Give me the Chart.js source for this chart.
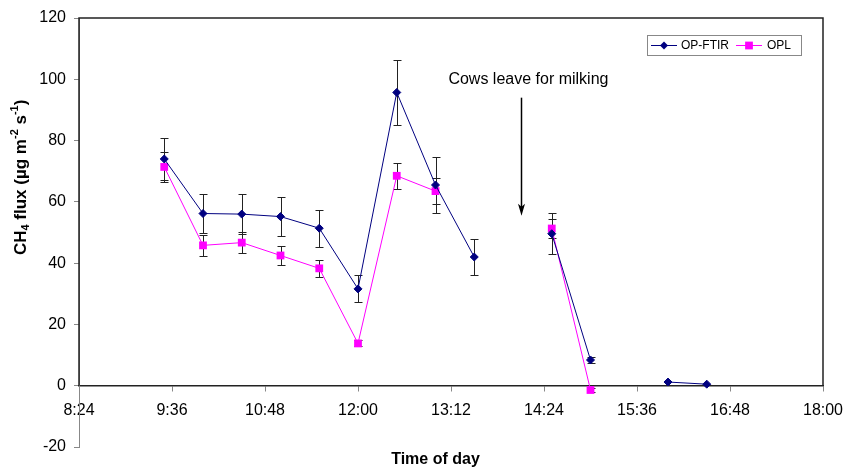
<!DOCTYPE html>
<html lang="en">
<head>
    <meta charset="UTF-8">
    <title>CH4 flux by time of day</title>
    <script src="https://cdn.jsdelivr.net/npm/chart.js"></script>
    <style>
        body, html {
            margin: 0;
            padding: 0;
            background-color: #ffffff;
        }
        .chart-container {
            position: relative;
            width: 845px;
            height: 469px;
        }
    </style>
</head>
<body>
    <div class="chart-container">
        <canvas id="fluxChart" width="845" height="469"></canvas>
    </div>

    <script>
        // sampling times (null = no measurement, breaks the line)
        const sampleTimes = ['9:30', '10:00', '10:30', '11:00', '11:30', '12:00', '12:30', '13:00',
                             '13:30', '14:00', '14:30', '15:00', '15:30', '16:00', '16:30'];
        const ftirFlux = [74.0, 56.2, 56.0, 55.2, 51.4, 31.6, 95.7, 65.5, 42.0, null, 49.6, 8.4, null, 1.2, 0.5];
        const ftirErr  = [7.0, 6.5, 6.5, 6.5, 6.0, 4.4, 10.6, 9.0, 6.0, null, 6.7, 1.0, null, 0, 0];
        const oplFlux  = [71.4, 45.8, 46.7, 42.5, 38.3, 13.8, 68.5, 63.5, null, null, 51.3, -1.4, null, null, null];
        const oplErr   = [5.0, 3.5, 3.5, 3.0, 2.7, 1.0, 4.3, 4.2, null, null, 3.0, 0.5, null, null, null];

        const xTickLabels = ['8:24', '9:36', '10:48', '12:00', '13:12', '14:24', '15:36', '16:48', '18:00'];
        const yTickValues = [-20, 0, 20, 40, 60, 80, 100, 120];

        const xTitle = 'Time of day';
        const xTitleTime = '13:00';
        // y axis title with sub/superscripts: [text, shift] (-1 sub, 1 sup)
        const yTitleParts = [['CH', 0], ['4', -1], [' flux (µg m', 0], ['-2', 1], [' s', 0], ['-1', 1], [')', 0]];
        const yTitleCenter = 68;

        const noteText = 'Cows leave for milking';
        const noteTime = '13:10';
        const noteValue = 100;
        const arrowTime = '14:06';
        const arrowFrom = 94;
        const arrowTo = 55.5;

        function toMinutes(t) {
            const parts = t.split(':').map(Number);
            return parts[0] * 60 + parts[1];
        }
        const xTickValues = xTickLabels.map(toMinutes);

        function toPoints(values) {
            return sampleTimes.map((t, i) => ({ x: toMinutes(t), y: values[i] }));
        }

        const FONT = '"Liberation Sans", Arial, sans-serif';
        Chart.defaults.font.family = FONT;
        Chart.defaults.color = '#000';

        // vertical error bars, drawn under the markers
        const errorBars = {
            id: 'errorBars',
            beforeDatasetsDraw(chart) {
                const { ctx, scales: { x, y } } = chart;
                ctx.save();
                ctx.strokeStyle = '#222';
                ctx.lineWidth = 1;
                chart.data.datasets.forEach(ds => {
                    if (!ds.errors) return;
                    ds.data.forEach((p, j) => {
                        const e = ds.errors[j];
                        if (p.y === null || !e) return;
                        const px = Math.round(x.getPixelForValue(p.x)) + 0.5;
                        const top = Math.round(y.getPixelForValue(p.y + e)) + 0.5;
                        const bot = Math.round(y.getPixelForValue(p.y - e)) + 0.5;
                        ctx.beginPath();
                        ctx.moveTo(px, top); ctx.lineTo(px, bot);
                        ctx.moveTo(px - 4, top); ctx.lineTo(px + 4, top);
                        ctx.moveTo(px - 4, bot); ctx.lineTo(px + 4, bot);
                        ctx.stroke();
                    });
                });
                ctx.restore();
            }
        };

        // plot frame, axis titles, annotation arrow and legend
        const frameAndNote = {
            id: 'frameAndNote',
            afterDraw(chart) {
                const { ctx, chartArea: a, scales: { x, y } } = chart;
                const y0 = y.getPixelForValue(0);
                ctx.save();
                ctx.strokeStyle = '#222';
                ctx.lineWidth = 1.5;
                ctx.beginPath();
                ctx.moveTo(a.left, y0);
                ctx.lineTo(a.left, a.top);
                ctx.lineTo(a.right, a.top);
                ctx.lineTo(a.right, y0);
                ctx.stroke();

                // x title
                ctx.fillStyle = '#000';
                ctx.font = 'bold 16px ' + FONT;
                ctx.textAlign = 'center';
                ctx.textBaseline = 'middle';
                ctx.fillText(xTitle, x.getPixelForValue(toMinutes(xTitleTime)), chart.height - 9);

                // y title, rotated, with sub/superscripts
                const big = 'bold 17px ' + FONT;
                const small = 'bold 11px ' + FONT;
                let total = 0;
                yTitleParts.forEach(p => {
                    ctx.font = p[1] ? small : big;
                    total += ctx.measureText(p[0]).width;
                });
                ctx.save();
                ctx.translate(21, y.getPixelForValue(yTitleCenter));
                ctx.rotate(-Math.PI / 2);
                ctx.textAlign = 'left';
                let cx = -total / 2;
                yTitleParts.forEach(p => {
                    ctx.font = p[1] ? small : big;
                    ctx.fillText(p[0], cx, p[1] === -1 ? 5 : p[1] === 1 ? -6 : 0);
                    cx += ctx.measureText(p[0]).width;
                });
                ctx.restore();

                // annotation
                ctx.font = '16px ' + FONT;
                ctx.textAlign = 'left';
                ctx.fillText(noteText, x.getPixelForValue(toMinutes(noteTime)), y.getPixelForValue(noteValue));

                const ax = Math.round(x.getPixelForValue(toMinutes(arrowTime))) + 0.5;
                const ay1 = y.getPixelForValue(arrowFrom);
                const ay2 = y.getPixelForValue(arrowTo);
                ctx.strokeStyle = '#000';
                ctx.lineWidth = 1.5;
                ctx.beginPath();
                ctx.moveTo(ax, ay1);
                ctx.lineTo(ax, ay2 - 6);
                ctx.stroke();
                ctx.beginPath();
                ctx.moveTo(ax, ay2);
                ctx.lineTo(ax - 3.5, ay2 - 12);
                ctx.lineTo(ax, ay2 - 9);
                ctx.lineTo(ax + 3.5, ay2 - 12);
                ctx.closePath();
                ctx.fill();

                // legend box
                const lx = 647, ly = 35, lw = 154, lh = 20;
                ctx.strokeStyle = '#888';
                ctx.lineWidth = 1;
                ctx.fillStyle = '#fff';
                ctx.fillRect(lx, ly, lw, lh);
                ctx.strokeRect(lx + 0.5, ly + 0.5, lw, lh);
                const cy = ly + lh / 2 + 0.5;
                const items = [
                    { ds: chart.data.datasets[0], x0: 651, tx: 681 },
                    { ds: chart.data.datasets[1], x0: 736, tx: 767 }
                ];
                items.forEach(it => {
                    ctx.strokeStyle = it.ds.borderColor;
                    ctx.lineWidth = 1;
                    ctx.beginPath();
                    ctx.moveTo(it.x0, cy);
                    ctx.lineTo(it.x0 + 26, cy);
                    ctx.stroke();
                    const mx = it.x0 + 13;
                    ctx.fillStyle = it.ds.pointBackgroundColor;
                    ctx.beginPath();
                    if (it.ds.pointStyle === 'rectRot') {
                        const r = it.ds.pointRadius;
                        ctx.moveTo(mx, cy - r); ctx.lineTo(mx + r, cy);
                        ctx.lineTo(mx, cy + r); ctx.lineTo(mx - r, cy);
                    } else {
                        const s = it.ds.pointRadius * Math.SQRT1_2;
                        ctx.rect(mx - s, cy - s, 2 * s, 2 * s);
                    }
                    ctx.closePath();
                    ctx.fill();
                    ctx.fillStyle = '#000';
                    ctx.font = '12px ' + FONT;
                    ctx.fillText(it.ds.label, it.tx, cy);
                });
                ctx.restore();
            }
        };

        const ctx = document.getElementById('fluxChart').getContext('2d');
        const fluxChart = new Chart(ctx, {
            type: 'line',
            data: {
                datasets: [
                    {
                        label: 'OP-FTIR',
                        data: toPoints(ftirFlux),
                        errors: ftirErr,
                        borderColor: '#000080',
                        backgroundColor: '#000080',
                        pointBackgroundColor: '#000080',
                        pointBorderColor: '#000080',
                        pointStyle: 'rectRot',
                        pointRadius: 4,
                        borderWidth: 1,
                        pointBorderWidth: 1,
                        spanGaps: false,
                        tension: 0
                    },
                    {
                        label: 'OPL',
                        data: toPoints(oplFlux),
                        errors: oplErr,
                        borderColor: '#FF00FF',
                        backgroundColor: '#FF00FF',
                        pointBackgroundColor: '#FF00FF',
                        pointBorderColor: '#FF00FF',
                        pointStyle: 'rect',
                        pointRadius: 5.5,
                        borderWidth: 1,
                        pointBorderWidth: 0,
                        spanGaps: false,
                        tension: 0
                    }
                ]
            },
            options: {
                responsive: false,
                animation: false,
                devicePixelRatio: 1,
                layout: { padding: { top: 18, right: 22, left: 0, bottom: 22 } },
                scales: {
                    x: {
                        type: 'linear',
                        position: { y: 0 },
                        min: 504,
                        max: 1080,
                        afterBuildTicks(scale) {
                            scale.ticks = xTickValues.map(v => ({ value: v }));
                        },
                        // labels overhang the ends; don't let them shrink the plot
                        afterFit(scale) {
                            scale.paddingLeft = 0;
                            scale.paddingRight = 0;
                        },
                        border: { color: '#222', width: 1.5 },
                        grid: { drawOnChartArea: false, drawTicks: true, tickLength: 5, color: '#888' },
                        ticks: {
                            autoSkip: false,
                            maxRotation: 0,
                            padding: 10,
                            font: { size: 16 },
                            callback: value => xTickLabels[xTickValues.indexOf(value)]
                        }
                    },
                    y: {
                        min: -20,
                        max: 120,
                        afterBuildTicks(scale) {
                            scale.ticks = yTickValues.map(v => ({ value: v }));
                        },
                        afterFit(scale) { scale.width = 79; },
                        border: { color: '#888', width: 1 },
                        grid: { drawOnChartArea: false, drawTicks: true, tickLength: 5, color: '#888' },
                        ticks: { padding: 8, font: { size: 16 } }
                    }
                },
                plugins: {
                    legend: { display: false },
                    tooltip: { enabled: false }
                }
            },
            plugins: [errorBars, frameAndNote]
        });
    </script>
</body>
</html>
